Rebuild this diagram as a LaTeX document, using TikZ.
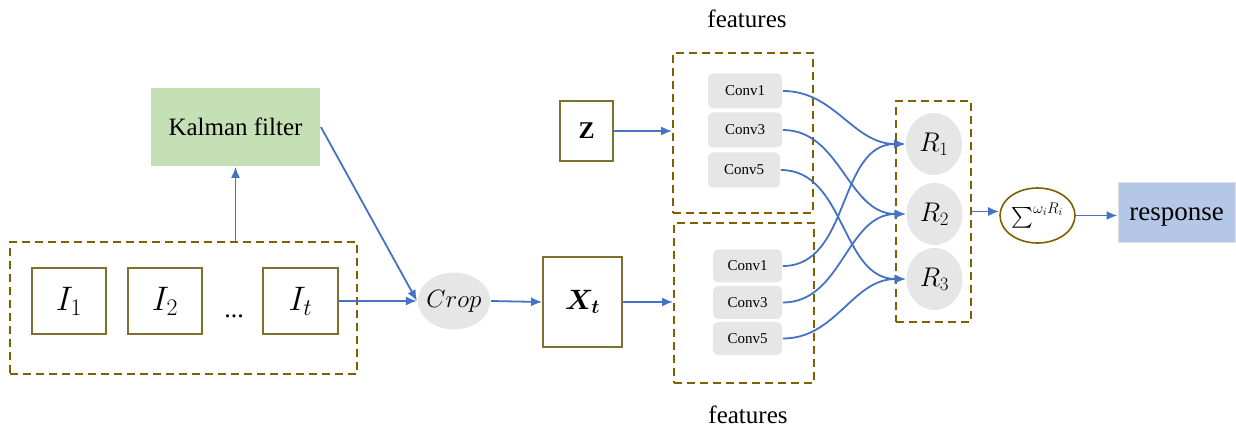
\RequirePackage{fix-cm}
\documentclass[tikz,border=0pt]{standalone}
\usepackage{amsmath,bm}
\usepackage{fontspec}
\setmainfont{Liberation Serif}
\usetikzlibrary{arrows.meta,shapes.geometric}
\definecolor{arrowblue}{HTML}{4472C4}
\definecolor{framebrown}{HTML}{7F6000}
\definecolor{boxolive}{HTML}{807030}
\definecolor{kalgreen}{HTML}{C5E0B4}
\definecolor{convgray}{HTML}{E7E6E6}
\definecolor{respblue}{HTML}{B4C7E7}
\begin{document}
\begin{tikzpicture}[x=1pt,y=-1pt,line width=1.8pt,
  >={Latex[length=11pt,width=9pt]},
  link/.style={->,draw=arrowblue},
  frame/.style={draw=framebrown,line width=1.9pt,dash pattern=on 8pt off 5pt,inner sep=0pt},
  imgbox/.style={draw=boxolive,line width=1.7pt,inner sep=0pt,minimum width=74pt,minimum height=66pt,font=\fontsize{34}{36}\selectfont},
  convbox/.style={fill=convgray,rounded corners=5pt,inner sep=0pt,minimum height=35pt,font=\fontsize{15}{17}\selectfont},
  roval/.style={ellipse,fill=convgray,inner sep=0pt,minimum width=56pt,minimum height=62pt,font=\fontsize{27}{29}\selectfont}]
\useasboundingbox (0,0) rectangle (1236,427);
\node[frame,minimum width=347pt,minimum height=132pt] (seq) at (183.5,308) {};
\node[imgbox] (i1) at (69,301) {$I_1$};
\node[imgbox] (i2) at (165,301) {$I_2$};
\node[imgbox,minimum width=75pt] (it) at (300.5,301) {$I_t$};
\node[anchor=base,inner sep=0pt,font=\fontsize{26}{28}\selectfont] (dots) at (234,318) {...};
\node[fill=kalgreen,inner sep=0pt,minimum width=169pt,minimum height=78pt,font=\fontsize{25}{27}\selectfont] (kal) at (235.5,127) {Kalman filter};
\node[ellipse,fill=convgray,inner sep=-2pt,minimum width=72pt,minimum height=57pt,font=\fontsize{25}{27}\selectfont] (crop) at (454,301) {$Crop$};
\node[draw=boxolive,line width=1.7pt,inner sep=0pt,minimum width=79pt,minimum height=90pt,font=\fontsize{28}{30}\selectfont] (xt) at (582.5,302) {$\bm{X_t}$};
\node[draw=boxolive,line width=1.7pt,inner sep=0pt,minimum width=53pt,minimum height=60pt,font=\fontsize{24}{26}\selectfont] (z) at (586.5,131) {\textbf{Z}};
\node[frame,minimum width=140pt,minimum height=160pt] (feat1) at (743,133) {};
\node[frame,minimum width=140pt,minimum height=160pt] (feat2) at (744,303) {};
\node[anchor=base,inner sep=0pt,font=\fontsize{25}{27}\selectfont] (lab1) at (747,28) {features};
\node[anchor=base,inner sep=0pt,font=\fontsize{25}{27}\selectfont] (lab2) at (748,423) {features};
\node[convbox,minimum width=74pt] (za) at (745,91) {Conv1};
\node[convbox,minimum width=74pt] (zb) at (745,130) {Conv3};
\node[convbox,minimum width=72pt] (zc) at (744,170) {Conv5};
\node[convbox,minimum width=69pt,minimum height=33pt] (xa) at (747.5,266) {Conv1};
\node[convbox,minimum width=69pt,minimum height=33pt] (xb) at (747.5,302.5) {Conv3};
\node[convbox,minimum width=69pt,minimum height=33pt] (xc) at (747.5,338.5) {Conv5};
\node[frame,minimum width=75pt,minimum height=221pt] (rbox) at (933.5,211.5) {};
\node[roval] (r1) at (934,144) {$R_1$};
\node[roval] (r2) at (934.5,214) {$R_2$};
\node[roval] (r3) at (934.5,279) {$R_3$};
\node[ellipse,draw=framebrown,line width=1.6pt,inner sep=0pt,minimum width=75pt,minimum height=55pt,font=\fontsize{22}{24}\selectfont] (sum) at (1037.5,215.5) {${\textstyle\sum}^{\omega_i R_i}$};
\node[fill=respblue,draw=black!12,line width=1pt,inner sep=0pt,minimum width=117pt,minimum height=60pt,text depth=0pt,font=\fontsize{27}{29}\selectfont] (resp) at (1176.5,213) {\raisebox{-3pt}{response}};
\draw[link] (kal.south |- seq.north) -- (kal.south);
\draw[link] (kal.east) -- (crop.west);
\draw[link] (it.east) -- (crop.west);
\draw[link] (crop.east) -- (xt.west);
\draw[link] (xt.east) -- (xt.east -| feat2.west);
\draw[link] (z.east) -- (z.east -| feat1.west);
\draw[link] (za.east) to[out=0,in=180] (r1.west);
\draw[link] (zb.east) to[out=0,in=180] (r2.west);
\draw[link] (zc.east) to[out=0,in=180] (r3.west);
\draw[link] (xa.east) to[out=0,in=180] (r1.west);
\draw[link] (xb.east) to[out=0,in=180] (r2.west);
\draw[link] (xc.east) to[out=0,in=180] (r3.west);
\draw[link] (rbox.east) -- (rbox.east -| sum.west);
\draw[link] (sum.east) -- (sum.east -| resp.west);
\end{tikzpicture}
\end{document}
